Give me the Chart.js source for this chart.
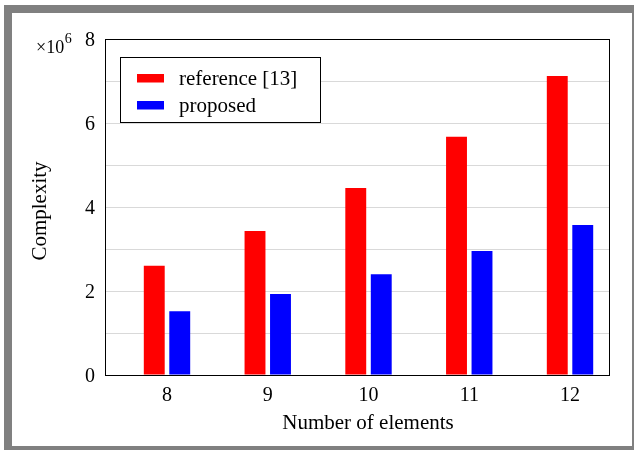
<!DOCTYPE html>
<html>
<head>
<meta charset="utf-8">
<script src="https://cdn.jsdelivr.net/npm/chart.js@4.4.1/dist/chart.umd.min.js"></script>
<style>
  html, body { margin: 0; padding: 0; background: #ffffff; overflow: hidden; }
  #frame { position: absolute; left: 4px; top: 5px; width: 620px; height: 433px; border: 8px solid #808080; background: #ffffff; }
  #wrap { position: absolute; left: 0; top: 0; width: 620px; height: 433px; }
</style>
</head>
<body>
<div id="frame"><div id="wrap"><canvas id="c" width="620" height="433"></canvas></div></div>
<script>
const categories = [8, 9, 10, 11, 12];
const referenceValues = [2.60, 3.43, 4.45, 5.67, 7.12];
const proposedValues = [1.52, 1.93, 2.40, 2.95, 3.57];
const seriesLabels = ['reference [13]', 'proposed'];
const yTicks = [0, 2, 4, 6, 8];
const axisTitleX = 'Number of elements';
const axisTitleY = 'Complexity';
const FONT = "'Liberation Serif', 'Times New Roman', serif";

const framePlugin = {
  id: 'frame',
  afterDraw(chart) {
    const {ctx, chartArea: a} = chart;
    ctx.save();
    ctx.strokeStyle = '#000';
    ctx.lineWidth = 1;
    ctx.strokeRect(Math.round(a.left) + 0.5, Math.round(a.top) + 0.5, Math.round(a.right - a.left), Math.round(a.bottom - a.top));
    // multiplier label
    ctx.fillStyle = '#000';
    ctx.textBaseline = 'alphabetic';
    ctx.textAlign = 'left';
    ctx.font = "18px " + FONT;
    const x0 = a.left - 69;
    ctx.fillText('\u00d710', x0, a.top + 14);
    const w = ctx.measureText('\u00d710').width;
    ctx.font = "14px " + FONT;
    ctx.fillText('6', x0 + w + 0.5, a.top + 4);
    // axis titles
    ctx.font = "21px " + FONT;
    ctx.textAlign = 'center';
    ctx.textBaseline = 'middle';
    ctx.fillText(axisTitleX, (a.left + a.right) / 2 + 11, a.bottom + 48);
    ctx.save();
    ctx.translate(a.left - 65, (a.top + a.bottom) / 2 + 4);
    ctx.rotate(-Math.PI / 2);
    ctx.fillText(axisTitleY, 0, 0);
    ctx.restore();
    // legend
    ctx.textAlign = 'left';
    const bx = a.left + 15, by = a.top + 18, bw = 200, bh = 65;
    ctx.fillStyle = '#fff';
    ctx.fillRect(bx, by, bw, bh);
    ctx.strokeStyle = '#000';
    ctx.strokeRect(Math.round(bx) + 0.5, Math.round(by) + 0.5, bw, bh);
    ctx.font = "21px " + FONT;
    ctx.textBaseline = 'middle';
    chart.data.datasets.forEach((ds, i) => {
      const cy = by + 21 + i * 27;
      ctx.fillStyle = ds.backgroundColor;
      ctx.fillRect(bx + 17, cy - 4, 27, 8.5);
      ctx.fillStyle = '#000';
      ctx.fillText(ds.label, bx + 59, cy + 1);
    });
    ctx.restore();
  }
};

new Chart(document.getElementById('c'), {
  type: 'bar',
  data: {
    datasets: [
      { label: seriesLabels[0], data: categories.map((c, i) => ({x: c, y: referenceValues[i]})), backgroundColor: '#ff0000' },
      { label: seriesLabels[1], data: categories.map((c, i) => ({x: c, y: proposedValues[i]})), backgroundColor: '#0000ff' }
    ]
  },
  options: {
    responsive: false,
    animation: false,
    events: [],
    layout: { padding: { top: 26, right: 23, left: 0, bottom: 0 } },
    datasets: { bar: { categoryPercentage: 0.506, barPercentage: 0.82 } },
    plugins: { legend: { display: false }, tooltip: { enabled: false } },
    scales: {
      x: {
        type: 'linear',
        offset: false,
        min: 7.3846,
        max: 12.387,
        afterBuildTicks: axis => { axis.ticks = categories.map(v => ({value: v})); },
        afterFit: s => { s.height = 71; },
        grid: { display: false, drawTicks: false, offset: false },
        border: { display: true, color: '#000', width: 1 },
        ticks: { color: '#000', padding: 9, font: { family: FONT, size: 20, lineHeight: 1.2 }, callback: v => String(v) },
        title: { display: false }
      },
      y: {
        min: 0,
        max: 8,
        afterFit: s => { s.width = 93; },
        ticks: { stepSize: 1, color: '#000', padding: 10, labelOffset: 2, font: { family: FONT, size: 20, lineHeight: 1.2 }, callback: v => yTicks.includes(v) ? String(v) : '' },
        grid: { color: '#d9d9d9', lineWidth: 1, drawTicks: false },
        border: { display: true, color: '#000', width: 1 },
        title: { display: false }
      }
    }
  },
  plugins: [framePlugin]
});
</script>
</body>
</html>
